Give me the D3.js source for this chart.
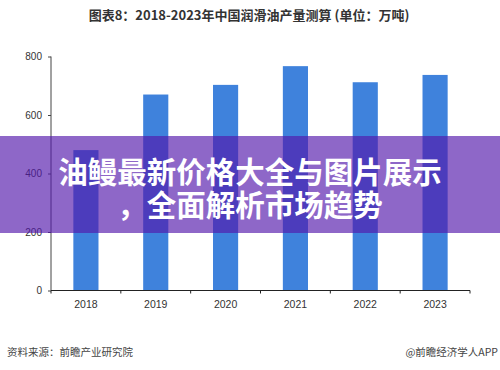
<!DOCTYPE html>
<html>
<head>
<meta charset="utf-8">
<script src="https://d3js.org/d3.v7.min.js"></script>
<style>
  body { margin: 0; background: #fff; }
  svg { display: block; }
</style>
</head>
<body>
<script>
// Chart data
const years = ["2018", "2019", "2020", "2021", "2022", "2023"];
const output = [480, 670, 703, 767, 712, 737];
const yTicks = [0, 200, 400, 600, 800];

const titleText = "图表8：2018-2023年中国润滑油产量测算 (单位：万吨)";
const sourceText = "资料来源：前瞻产业研究院";
const creditText = "@前瞻经济学人APP";
const bannerLines = ["油鳗最新价格大全与图片展示", "，全面解析市场趋势"];

const W = 500, H = 370;
const cjk = "'Noto Sans CJK SC', 'Noto Sans', sans-serif";
const latin = "'Liberation Sans', Arial, sans-serif";

let svg = d3.select("body").append("svg")
    .attr("width", W)
    .attr("height", H);

// Scales
let x = d3.scaleBand().domain(years).range([51, 470]).paddingInner(0.64).paddingOuter(0.32);
let y = d3.scaleLinear().domain([0, 800]).range([290.5, 56.5]);

// Title
svg.append("text")
    .attr("x", 249).attr("y", 20)
    .attr("text-anchor", "middle")
    .style("font-family", cjk)
    .style("font-weight", "bold")
    .style("font-size", "13px")
    .style("fill", "#333")
    .text(titleText);

// Bars
svg.selectAll("rect.bar")
    .data(output)
    .enter().append("rect")
    .attr("class", "bar")
    .attr("x", (d, i) => x(years[i]))
    .attr("width", x.bandwidth())
    .attr("y", d => y(d))
    .attr("height", d => y(0) - y(d))
    .style("fill", "#3f82dc");

// Y axis
let yAxis = svg.append("g")
    .attr("transform", "translate(51,0)")
    .call(d3.axisLeft(y).tickValues(yTicks).tickSize(3).tickPadding(6));
yAxis.select(".domain").attr("stroke", "#444").attr("d", "M0," + y(800) + "V" + y(0));
yAxis.selectAll(".tick line").attr("stroke", "#444");
yAxis.selectAll("text")
    .style("font-family", latin)
    .style("font-size", "10px")
    .style("fill", "#333");

// X axis, ticks sit at the category borders
let xAxis = svg.append("g")
    .attr("transform", "translate(0," + y(0) + ")");
xAxis.append("line")
    .attr("x1", 51).attr("x2", 470)
    .attr("stroke", "#222");
xAxis.selectAll("line.tk")
    .data(d3.range(years.length + 1))
    .enter().append("line")
    .attr("class", "tk")
    .attr("x1", i => 51 + i * (419 / years.length))
    .attr("x2", i => 51 + i * (419 / years.length))
    .attr("y1", 0).attr("y2", 3)
    .attr("stroke", "#222");
xAxis.selectAll("text")
    .data(years)
    .enter().append("text")
    .attr("x", d => x(d) + x.bandwidth() / 2)
    .attr("y", 17)
    .attr("text-anchor", "middle")
    .style("font-family", latin)
    .style("font-size", "10.5px")
    .style("fill", "#333")
    .text(d => d);

// Footer
svg.append("text")
    .attr("x", 7).attr("y", 356)
    .style("font-family", cjk)
    .style("font-size", "10.5px")
    .style("fill", "#444")
    .text(sourceText);
svg.append("text")
    .attr("x", 498).attr("y", 356)
    .attr("text-anchor", "end")
    .style("font-family", cjk)
    .style("font-size", "10.5px")
    .style("fill", "#444")
    .text(creditText);

// Purple banner laid over the chart
svg.append("rect")
    .attr("x", 0).attr("y", 136)
    .attr("width", W).attr("height", 97)
    .style("fill", "rgba(84, 24, 172, 0.66)");

svg.selectAll("text.banner")
    .data(bannerLines)
    .enter().append("text")
    .attr("class", "banner")
    .attr("x", 250)
    .attr("y", (d, i) => 183 + i * 33)
    .attr("text-anchor", "middle")
    .style("font-family", cjk)
    .style("font-weight", "bold")
    .style("font-size", "29.5px")
    .style("fill", "#fff")
    .text(d => d);
</script>
</body>
</html>
